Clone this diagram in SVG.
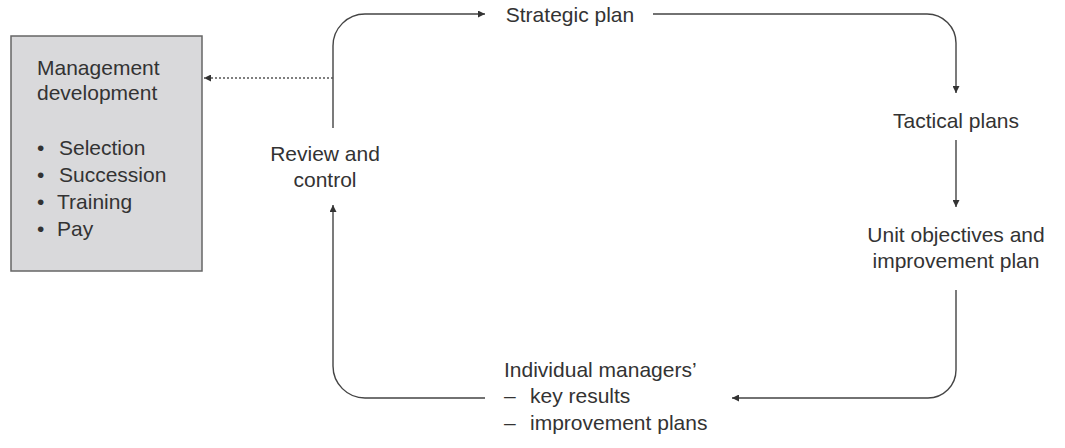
<svg xmlns="http://www.w3.org/2000/svg" width="1065" height="448" viewBox="0 0 1065 448">
<style>
text{font-family:"Liberation Sans",Arial,sans-serif;font-size:21px;fill:#333}
.ln{fill:none;stroke:#444;stroke-width:1.4}
.dot{fill:none;stroke:#555;stroke-width:1.4;stroke-dasharray:2 2}
.mid{text-anchor:middle}
</style>
<defs>
<marker id="ah" viewBox="0 0 10 10" refX="10" refY="5" markerWidth="8" markerHeight="7" markerUnits="userSpaceOnUse" orient="auto">
<path d="M0,0 L10,5 L0,10 z" fill="#333"/>
</marker>
</defs>
<g id="mgmt-dev">
<rect x="11" y="36" width="191" height="235" fill="#d9d9db" stroke="#666" stroke-width="1.5"/>
<text x="37" y="75">Management</text>
<text x="37" y="100">development</text>
<text x="37" y="155">•<tspan x="59">Selection</tspan></text>
<text x="37" y="182">•<tspan x="59">Succession</tspan></text>
<text x="37" y="209">•<tspan x="57">Training</tspan></text>
<text x="37" y="236">•<tspan x="57">Pay</tspan></text>
</g>
<g id="strategic">
<text class="mid" x="570" y="22">Strategic plan</text>
</g>
<g id="tactical">
<text class="mid" x="956" y="128">Tactical plans</text>
</g>
<g id="unit">
<text class="mid" x="956" y="242">Unit objectives and</text>
<text class="mid" x="956" y="268">improvement plan</text>
</g>
<g id="individual">
<text x="504" y="377">Individual managers’</text>
<text x="504" y="403">–<tspan x="530">key results</tspan></text>
<text x="504" y="430">–<tspan x="530">improvement plans</tspan></text>
</g>
<g id="review">
<text class="mid" x="325" y="161">Review and</text>
<text class="mid" x="325" y="187">control</text>
</g>
<g id="connectors">
<path class="ln" d="M333,128 V46 A32,32 0 0 1 365,14 H485" marker-end="url(#ah)"/>
<path class="ln" d="M653,14 H927 A29,29 0 0 1 956,43 V93" marker-end="url(#ah)"/>
<path class="ln" d="M956,140 V207" marker-end="url(#ah)"/>
<path class="ln" d="M956,290 V370 A28,28 0 0 1 928,398 H732" marker-end="url(#ah)"/>
<path class="ln" d="M485,398 H365 A32,32 0 0 1 333,366 V205" marker-end="url(#ah)"/>
<path class="dot" d="M333,78 H204" marker-end="url(#ah)"/>
</g>
</svg>
